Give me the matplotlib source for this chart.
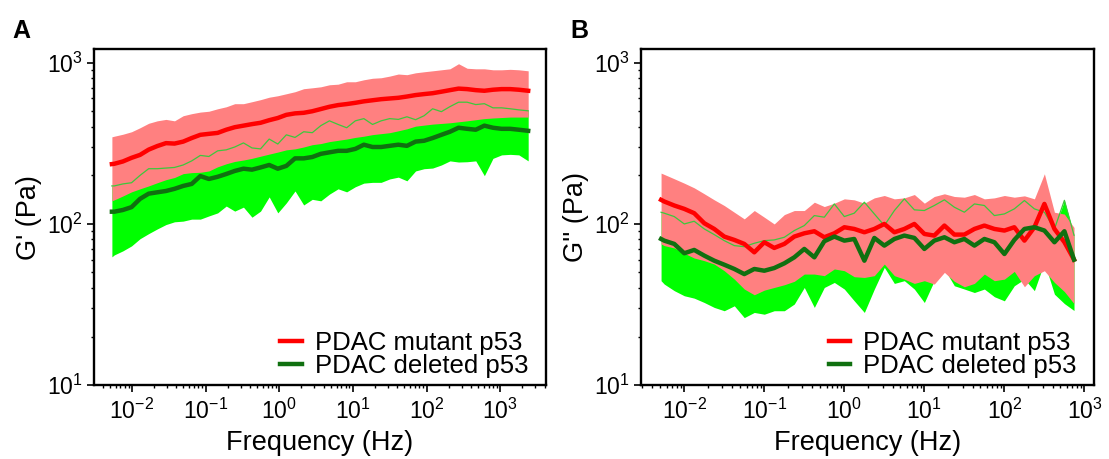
import matplotlib
matplotlib.use('Agg')
import matplotlib.pyplot as plt
from matplotlib.ticker import LogLocator, NullFormatter, FixedLocator

plt.rcParams['font.family'] = ['Liberation Sans', 'DejaVu Sans']
plt.rcParams['mathtext.fontset'] = 'custom'
plt.rcParams['mathtext.rm'] = 'Liberation Sans'
plt.rcParams['mathtext.it'] = 'Liberation Sans:italic'
plt.rcParams['mathtext.bf'] = 'Liberation Sans:bold'
plt.rcParams['mathtext.sf'] = 'Liberation Sans'

# ---------------- Panel A : G' ----------------
freq_A = [0.00535, 0.00577, 0.00755, 0.00989, 0.0129, 0.0169, 0.0221, 0.0290, 0.0379, 0.0497,
          0.0649, 0.0849, 0.111, 0.146, 0.191, 0.249, 0.327, 0.427, 0.558, 0.731,
          0.957, 1.25, 1.64, 2.15, 2.81, 3.67, 4.81, 6.30, 8.24, 10.8,
          14.1, 18.5, 24.2, 31.6, 41.4, 54.2, 71.0, 92.7, 121, 159,
          208, 272, 356, 466, 610, 798, 1045, 1368, 1791, 2400]

mut_hi_A = [347, 350, 360, 373, 395, 421, 436, 445, 436, 469, 483, 494, 500, 518, 533, 557, 557, 573,
            590, 611, 624, 642, 661,
            690, 699, 709, 730, 736, 762, 762, 784, 801, 807, 826, 851, 843, 866, 879, 891, 904, 917,
            986, 924, 917, 917, 904,
            904, 910, 904, 891]
mut_mean_A = [235, 236, 244, 257, 268, 289, 304, 317, 315, 324, 341, 357, 362, 367, 384, 398, 407, 416,
              424, 440, 454, 475, 485,
              489, 500, 516, 533, 546, 554, 564, 576, 585, 594, 600, 606, 617, 630, 639, 647, 661, 676,
              691, 686, 676, 670, 680,
              686, 686, 680, 670]
mut_lo_A = [139, 141, 149, 158, 165, 172, 180, 188, 194, 205, 208, 209, 213, 226, 236, 244, 249, 255,
            263, 271, 279, 288, 292,
            300, 310, 315, 324, 330, 336, 344, 350, 358, 363, 368, 378, 389, 404, 410, 416, 420, 424,
            430, 436, 443, 450, 454,
            457, 460, 460, 460]
del_hi_A = [172, 172, 177, 180, 200, 220, 220, 222, 224, 232, 246, 266, 262, 284, 288, 300, 318, 296,
            292, 336, 313, 357, 344,
            373, 368, 407, 436, 414, 395, 436, 450, 414, 436, 450, 445, 462, 443, 469, 518, 497, 534,
            569, 569, 550, 557, 525,
            525, 518, 510, 503]
del_mean_A = [119, 119, 122, 127, 143, 154, 157, 160, 165, 172, 177, 198, 190, 196, 204, 213, 220, 217,
              224, 232, 220, 229, 255,
              255, 260, 272, 278, 284, 284, 292, 310, 300, 300, 305, 310, 305, 324, 328, 341, 357, 373,
              395, 389, 384, 407, 395,
              389, 389, 384, 378]
del_lo_A = [62.4, 64.2, 68.0, 73.0, 80.9, 87.0, 93, 99, 103, 104, 107, 107, 112, 117, 129, 120, 127, 110,
            120, 147, 117, 135, 160,
            131, 142, 139, 153, 165, 158, 170, 179, 181, 181, 190, 195, 185, 213, 220, 222, 232, 246,
            242, 243, 246, 199, 255,
            268, 270, 268, 246]

# ---------------- Panel B : G'' ----------------
freq_B = [0.00513, 0.00562, 0.0075, 0.01, 0.0133, 0.0178, 0.0237, 0.0316, 0.0422, 0.0562,
          0.075, 0.1, 0.133, 0.178, 0.237, 0.316, 0.422, 0.562, 0.75, 1.0,
          1.33, 1.78, 2.37, 3.16, 4.22, 5.62, 7.5, 10, 13.3, 17.8,
          23.7, 31.6, 42.2, 56.2, 75, 100, 133, 178, 237, 316,
          422, 562, 741]

mut_hi_B = [206.6, 202.7, 190.5, 178.9, 167.4, 153.7, 141, 130, 118.1, 107.4,
            121, 110, 99.9, 114.2, 121, 121, 136.3, 128.1, 134.4, 143,
            141, 134.4, 145, 150, 143, 145, 152.1, 134.4, 147.9, 153.7,
            147.9, 146.4, 152.1, 143, 145, 150, 146.4, 149.3, 143, 204.6,
            118.1, 115, 95]
mut_mean_B = [141, 137.7, 130, 123.9, 116.5, 100.9, 93.0, 83.4, 79.5, 75.1,
              66.6, 76.9, 70.9, 75.1, 83.4, 87.4, 90.0, 82.6, 87.4, 95.3,
              93, 88.7, 93, 99.9, 88.7, 93, 99.9, 86.6, 84.6, 97.6,
              85.8, 85.8, 93, 97.6, 93, 90.9, 95.3, 78.7, 95.3, 133,
              93, 77, 60]
mut_lo_B = [75.1, 73.3, 70.9, 65.7, 61.4, 59.1, 56.3, 51.2, 45.4, 39.4,
            36.3, 38.8, 40.3, 41.9, 44.0, 48.8, 48.8, 47.7, 52.5, 51.2,
            47.0, 46.5, 47.7, 56.3, 47.7, 45.4, 42.7, 44.4, 42.3, 50.0,
            44.0, 40.7, 42.7, 48.8, 44.4, 45.4, 50.7, 40.7, 47.7, 51.2,
            43.3, 38, 32]
del_hi_B = [118.1, 116.5, 111, 99.9, 103.8, 93.0, 85.8, 78.7, 73.3, 72.2,
            75.8, 78.7, 79.5, 82.6, 90.9, 97.6, 112.6, 110, 133, 111,
            116.5, 136.3, 115.3, 97.6, 121, 143, 122.2, 121, 130, 141,
            126.9, 118.1, 133, 130, 112.6, 115.3, 123.9, 139.6, 123.9, 118.1,
            93, 140, 85]
del_mean_B = [80.6, 78.7, 75.1, 65.7, 68.9, 63.5, 59.1, 55.8, 52.5, 48.8,
              52.5, 51.2, 53.2, 56.9, 62.0, 69.9, 62.0, 78.0, 83.4, 78.7,
              80.6, 59.1, 81.8, 73.3, 80.6, 84.6, 81.8, 69.9, 78.7, 82.6,
              76.9, 80.6, 73.3, 80.6, 76.9, 65.0, 79.5, 93, 95.3, 90.9,
              76.9, 90, 60]
del_lo_B = [44.4, 42.3, 38.5, 35.8, 34.6, 32.5, 30.3, 28.9, 31.0, 26.2,
            28.2, 27.5, 28.9, 28.9, 31.8, 40.3, 30.3, 40.3, 43.3, 39.4,
            33.3, 28.2, 39.4, 53.7, 42.7, 44.4, 39.4, 32.5, 44.4, 52.5,
            41.3, 39.4, 37.5, 39.4, 35.3, 33.3, 41.3, 45.4, 38.5, 57.7,
            36.6, 32, 29]

labels = ['PDAC mutant p53', 'PDAC deleted p53']
ylabels = ["G' (Pa)", "G'' (Pa)"]
xticks = [1e-2, 1e-1, 1e0, 1e1, 1e2, 1e3]
yticks = [1e1, 1e2, 1e3]

fig = plt.figure(figsize=(11.09, 4.59), dpi=100)
axA = fig.add_axes([0.0844, 0.1612, 0.4076, 0.7313])
axB = fig.add_axes([0.578, 0.1612, 0.4085, 0.7313])


def draw(ax, f, m_hi, m_mean, m_lo, d_hi, d_mean, d_lo, xlim, ylabel):
    ax.fill_between(f, d_lo, d_hi, color='#00FF00', lw=0, zorder=1)
    ax.fill_between(f, m_lo, m_hi, color='#FF8080', lw=0, zorder=2)
    ax.plot(f, d_hi, color='#3CC83C', lw=0.9, zorder=3)
    ax.plot(f, m_mean, color='#FF0000', lw=3.2, zorder=4, label=labels[0])
    ax.plot(f, d_mean, color='#107010', lw=3.2, zorder=5, label=labels[1])
    ax.set_xscale('log')
    ax.set_yscale('log')
    ax.set_xlim(*xlim)
    ax.set_ylim(10, 1211)
    ax.xaxis.set_major_locator(FixedLocator(xticks))
    ax.xaxis.set_minor_locator(LogLocator(base=10, subs=range(2, 10), numticks=20))
    ax.yaxis.set_major_locator(FixedLocator(yticks))
    ax.yaxis.set_minor_locator(LogLocator(base=10, subs=range(2, 10), numticks=20))
    ax.xaxis.set_minor_formatter(NullFormatter())
    ax.yaxis.set_minor_formatter(NullFormatter())
    ax.tick_params(which='major', direction='out', length=5, width=1.2, labelsize=16.5,
                   top=False, right=False)
    ax.tick_params(which='minor', direction='out', length=2.5, width=1.0, top=False, right=False)
    ax.tick_params(axis='x', which='major', pad=5)
    ax.tick_params(axis='y', which='major', pad=3)
    for s in ax.spines.values():
        s.set_linewidth(1.7)
    ax.set_xlabel('Frequency (Hz)', fontsize=19.5)
    ax.xaxis.set_label_coords(0.5, -0.135)
    ax.xaxis.label.set_va('top')
    ax.set_ylabel(ylabel, fontsize=19.5)
    ax.yaxis.set_label_coords(-0.115, 0.5)
    ax.legend(loc='lower right', bbox_to_anchor=(0.962, 0.02), frameon=False, fontsize=18.5,
              handlelength=0.85, handletextpad=0.5, labelspacing=-0.04, borderpad=0,
              borderaxespad=0)


draw(axA, freq_A, mut_hi_A, mut_mean_A, mut_lo_A, del_hi_A, del_mean_A, del_lo_A,
     (0.00302, 4140), ylabels[0])
draw(axB, freq_B, mut_hi_B, mut_mean_B, mut_lo_B, del_hi_B, del_mean_B, del_lo_B,
     (0.00288, 1318), ylabels[1])

fig.text(12.5 / 1109, 1 - 38 / 459, 'A', fontsize=18, fontweight='bold', va='baseline')
fig.text(570 / 1109, 1 - 38 / 459, 'B', fontsize=18, fontweight='bold', va='baseline')

fig.savefig('out.png', dpi=100)
